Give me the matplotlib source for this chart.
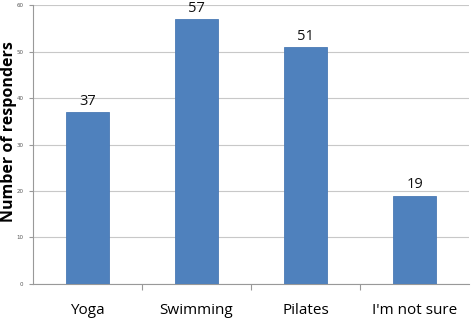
import matplotlib.pyplot as plt

# data
categories = ["Yoga", "Swimming", "Pilates", "I'm not sure"]
responders = [37, 57, 51, 19]
y_ticks = [0, 10, 20, 30, 40, 50, 60]

fig = plt.figure(figsize=(4.72, 3.18), dpi=100)
ax = fig.add_axes([0.070, 0.107, 0.924, 0.877])

x = range(len(categories))
bars = ax.bar(x, responders, width=0.4, color="#4f81bd", edgecolor="#4a7ab5",
              linewidth=0.6, zorder=3)

for xi, v in zip(x, responders):
    ax.text(xi, v + 0.7, str(v), ha="center", va="bottom", fontsize=10.5,
            color="#111111", family="Open Sans")

ax.set_xlim(-0.5, len(categories) - 0.5)
ax.set_ylim(0, 60)
ax.set_yticks(y_ticks)
ax.set_yticklabels([str(t) for t in y_ticks], fontsize=4, color="#555555")
ax.yaxis.grid(True, color="#c8c8c8", linewidth=0.8, zorder=0)

ax.set_xticks([i + 0.5 for i in range(len(categories) - 1)], minor=False)
ax.set_xticklabels([])
ax.set_xticks(list(x), minor=True)
ax.set_xticklabels(categories, minor=True, fontsize=11, family="Open Sans")
ax.tick_params(axis="x", which="minor", length=0, pad=14)
ax.tick_params(axis="x", which="major", length=4, color="#999999", direction="out")
ax.tick_params(axis="y", length=3, color="#999999", pad=4)

for s in ["top", "right"]:
    ax.spines[s].set_visible(False)
ax.spines["left"].set_color("#999999")
ax.spines["bottom"].set_color("#999999")

ax.set_ylabel("Number of responders", fontsize=11.5, fontweight="bold",
              family="Open Sans")
# right edge of the rotated label sits about 17 px from the figure's left edge
ax.yaxis.set_label_coords(-0.036, 0.545)

fig.savefig("out.png", dpi=100)
